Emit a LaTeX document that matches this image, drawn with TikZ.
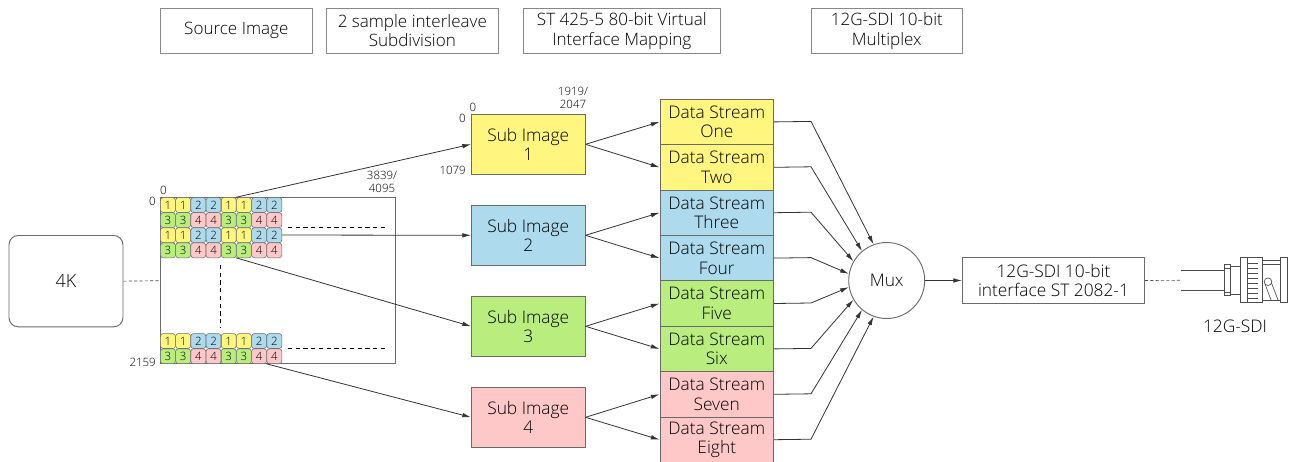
\documentclass[tikz,border=0pt]{standalone}
\usepackage{fontspec}
\setmainfont{Open Sans Light}[BoldFont={Open Sans}]
\usetikzlibrary{arrows.meta}
\definecolor{cy}{HTML}{FFF57F}
\definecolor{cb}{HTML}{AEDAEE}
\definecolor{cg}{HTML}{B9EE7E}
\definecolor{cp}{HTML}{FFC8C8}
\definecolor{ln}{HTML}{6A6A6A}
\tikzset{
 base/.style={draw=ln,line width=0.7pt,inner sep=0pt,align=center,font=\fontsize{13}{14.6}\selectfont,text=black},
 hdr/.style={base,draw=ln!80,line width=0.5pt,anchor=north west,font=\fontsize{12.8}{14.6}\selectfont},
 box/.style={base,anchor=north west,minimum width=85.2pt},
 sub/.style={box,minimum height=45.5pt},
 ds/.style={box,minimum height=34.1pt},
 cell/.style={draw=ln,line width=0.4pt,rounded corners=2pt,minimum size=11.2pt,inner sep=0pt,font=\fontsize{8.6}{9}\selectfont,text=black},
 small/.style={font=\fontsize{8.6}{9.75}\selectfont,text=black,inner sep=0pt,align=center},
 conn/.style={draw=black!80,line width=0.6pt,-{Latex[length=6.5pt,width=3.4pt]}},
 thin/.style={draw=black!70,line width=0.5pt},
 dotl/.style={draw=black,line width=0.75pt,dash pattern=on 3.2pt off 2.6pt},
 dash2/.style={draw=black!70,line width=0.5pt,dash pattern=on 2.4pt off 1.6pt},
}
\begin{document}
\begin{tikzpicture}[x=0.75pt,y=-0.75pt]
\useasboundingbox (0,0) rectangle (1292,461);
\clip (0,0) rectangle (1292,461);
\fill[white] (0,0) rectangle (1292,461);
% headers
\node[hdr,minimum width=114pt,minimum height=33.75pt] (h1) at (160,8) {Source Image};
\node[hdr,minimum width=129pt,minimum height=33.75pt] (h2) at (326,8) {2 sample interleave\\Subdivision};
\node[hdr,minimum width=147.75pt,minimum height=33.75pt] (h3) at (523,8) {ST 425-5 80-bit Virtual\\Interface Mapping};
\node[hdr,minimum width=113.25pt,minimum height=33.75pt] (h4) at (811,8) {12G-SDI 10-bit\\Multiplex};
% 4K
\node[base,anchor=north west,rounded corners=7pt,minimum width=85.5pt,minimum height=68.5pt,font=\fontsize{13.5}{16}\selectfont] (k) at (8.5,235) {4K};
% frame
\node[draw=ln,line width=0.6pt,anchor=north west,minimum width=175.9pt,minimum height=124.5pt,inner sep=0pt] (frame) at (160.2,197.3) {};
\draw[dash2] (k.east) -- (frame.west);
% cells
\foreach \ry/\a/\b/\ca/\cb in {197.3/1/2/cy/cb,212.4/3/4/cg/cp,227.5/1/2/cy/cb,242.6/3/4/cg/cp,333.3/1/2/cy/cb,348.5/3/4/cg/cp}{
  \foreach \i in {0,1,4,5}
    \node[cell,fill=\ca,anchor=north west] at (160.2+\i*15.2,\ry) {\a};
  \foreach \i in {2,3,6,7}
    \node[cell,fill=\cb,anchor=north west] at (160.2+\i*15.2,\ry) {\b};
}
\coordinate (t1) at (236,197.3);
\coordinate (t2) at (281.8,235);
\coordinate (t3) at (236,257.8);
\coordinate (t4) at (266.5,363.8);
\coordinate (da) at (288,227.5); \coordinate (db) at (388,227.5);
\coordinate (dc) at (288,348.5); \coordinate (dd) at (388,348.5);
\coordinate (de) at (220.5,265); \coordinate (df) at (220.5,327);
\draw[dotl] (da) -- (db);
\draw[dotl] (dc) -- (dd);
\draw[dotl] (de) -- (df);
% labels
\node[small,anchor=base] at (163.5,194) {0};
\node[small,anchor=base east] at (156,205) {0};
\node[small,anchor=base east] at (156,366) {2159};
\node[small,anchor=base] at (382,192) {3839/\\4095};
\node[small,anchor=base] at (473,111) {0};
\node[small,anchor=base east] at (466,122) {0};
\node[small,anchor=base east] at (466,174) {1079};
\node[small,anchor=base] at (573,108.5) {1919/\\2047};
% sub images
\node[sub,fill=cy] (s1) at (471,113.5) {Sub Image\\1};
\node[sub,fill=cb] (s2) at (471,204.5) {Sub Image\\2};
\node[sub,fill=cg] (s3) at (471,295.5) {Sub Image\\3};
\node[sub,fill=cp] (s4) at (471,386.5) {Sub Image\\4};
\draw[conn] (t1) -- (s1.west);
\draw[conn] (t2) -- (s2.west);
\draw[conn] (t3) -- (s3.west);
\draw[conn] (t4) -- (s4.west);
% data streams
\node[ds,fill=cy] (d1) at (659.5,98.7) {Data Stream\\One};
\node[ds,fill=cy] (d2) at (659.5,144.1) {Data Stream\\Two};
\node[ds,fill=cb] (d3) at (659.5,189.5) {Data Stream\\Three};
\node[ds,fill=cb] (d4) at (659.5,234.9) {Data Stream\\Four};
\node[ds,fill=cg] (d5) at (659.5,280.3) {Data Stream\\Five};
\node[ds,fill=cg] (d6) at (659.5,325.7) {Data Stream\\Six};
\node[ds,fill=cp] (d7) at (659.5,371.1) {Data Stream\\Seven};
\node[ds,fill=cp] (d8) at (659.5,416.5) {Data Stream\\Eight};
\draw[conn] (s1.east) -- (d1.west);
\draw[conn] (s1.east) -- (d2.west);
\draw[conn] (s2.east) -- (d3.west);
\draw[conn] (s2.east) -- (d4.west);
\draw[conn] (s3.east) -- (d5.west);
\draw[conn] (s3.east) -- (d6.west);
\draw[conn] (s4.east) -- (d7.west);
\draw[conn] (s4.east) -- (d8.west);
% mux
\node[base,circle,minimum size=57pt,fill=white] (m) at (886.7,280.5) {Mux};
\draw[conn] (d1.east) -- (811,121.4) -- (m.110);
\draw[conn] (d2.east) -- (811,166.8) -- (m.130);
\draw[conn] (d3.east) -- (811,212.2) -- (m.150);
\draw[conn] (d4.east) -- (811,257.6) -- (m.170);
\draw[conn] (d5.east) -- (811,303) -- (m.190);
\draw[conn] (d6.east) -- (811,348.4) -- (m.210);
\draw[conn] (d7.east) -- (811,393.8) -- (m.230);
\draw[conn] (d8.east) -- (811,439.2) -- (m.250);
% output
\node[base,anchor=north west,minimum width=136.5pt,minimum height=34.5pt] (o) at (962,257) {12G-SDI 10-bit\\interface ST 2082-1};
\draw[conn] (m.east) -- (o.west);
\coordinate (w) at (1181,280.3);
\draw[dash2] (o.east) -- (w);
% BNC connector
\begin{scope}[thin]
 \draw (1181,270.3) -- (1224.3,270.3);
 \draw (1181,290.3) -- (1224.3,290.3);
 \draw (1224.3,264.7) rectangle (1230.7,295);
 \draw (1224.3,268) -- (1230.7,268) (1224.3,292) -- (1230.7,292);
 \draw (1230.7,266) rectangle (1240,294);
 \draw (1240,257.3) rectangle (1247.3,302);
 \draw (1247.3,257.3) rectangle (1262.3,302);
 \foreach \yy in {263,268,273,278,283,288,293,298} \draw (1247.3,\yy) -- (1258,\yy);
 \draw (1262.3,260) -- (1280,260) (1262.3,300) -- (1280,300);
 \draw (1262.3,264) -- (1280,264);
 \draw (1280,257.3) rectangle (1287.3,302);
 \draw (1268,281.7) circle (3.8);
 \draw (1265,284) -- (1271,300) (1271.5,283) -- (1278,300);
\end{scope}
\node[base,draw=none,anchor=base] (lb) at (1235,332) {12G-SDI};
\end{tikzpicture}
\end{document}
